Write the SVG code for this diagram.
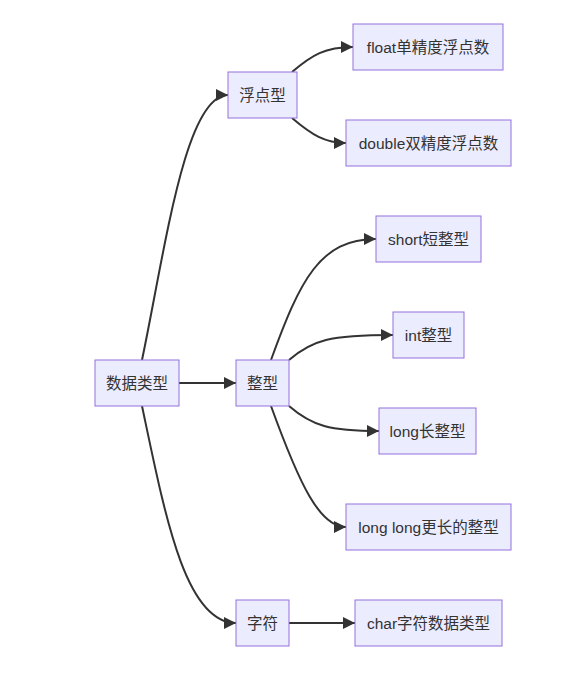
<svg xmlns="http://www.w3.org/2000/svg" width="584" height="678" viewBox="0 0 584 678">
<style>
.node rect{fill:#ECECFF;stroke:#9370DB;stroke-width:1px}
.node text{font-family:"Liberation Sans","Noto Sans CJK SC",sans-serif;font-size:15.5px;fill:#333;text-anchor:middle;dominant-baseline:central}
.edges path{fill:none;stroke:#333;stroke-width:2px}
</style>
<defs>
<marker id="arr" viewBox="0 0 10 10" refX="10" refY="5" markerWidth="6" markerHeight="6" markerUnits="strokeWidth" orient="auto">
<path d="M0,0 L10,5 L0,10 z" fill="#333"/>
</marker>
</defs>
<rect width="584" height="678" fill="#fff"/>
<g class="edges">
<path d="M142,360 C165,250 185,95 228,95" marker-end="url(#arr)"/>
<path d="M179,383 L236,383" marker-end="url(#arr)"/>
<path d="M142,406 C165,515 185,623 236,623" marker-end="url(#arr)"/>
<path d="M292,72 C312,55 325,47 353,47" marker-end="url(#arr)"/>
<path d="M292,118 C312,135 325,143 346,143" marker-end="url(#arr)"/>
<path d="M271,360 C300,280 320,239 376,239" marker-end="url(#arr)"/>
<path d="M289,360 C312,340 330,335 393,335" marker-end="url(#arr)"/>
<path d="M289,406 C312,426 330,431 379,431" marker-end="url(#arr)"/>
<path d="M271,406 C300,486 320,527 346,527" marker-end="url(#arr)"/>
<path d="M289,623 L355,623" marker-end="url(#arr)"/>
</g>
<g id="n-shuju" class="node"><rect x="95" y="360" width="84" height="46"/><text x="137" y="383">数据类型</text></g>
<g id="n-fudian" class="node"><rect x="228" y="72" width="69" height="46"/><text x="262.5" y="95">浮点型</text></g>
<g id="n-zheng" class="node"><rect x="236" y="360" width="53" height="46"/><text x="262.5" y="383">整型</text></g>
<g id="n-zifu" class="node"><rect x="236" y="600" width="53" height="46"/><text x="262.5" y="623">字符</text></g>
<g id="n-float" class="node"><rect x="353" y="24" width="150" height="46"/><text x="428" y="47">float单精度浮点数</text></g>
<g id="n-double" class="node"><rect x="346" y="120" width="165" height="46"/><text x="428.5" y="143">double双精度浮点数</text></g>
<g id="n-short" class="node"><rect x="376" y="216" width="105" height="46"/><text x="428.5" y="239">short短整型</text></g>
<g id="n-int" class="node"><rect x="393" y="312" width="71" height="46"/><text x="428.5" y="335">int整型</text></g>
<g id="n-long" class="node"><rect x="379" y="408" width="97" height="46"/><text x="427.5" y="431">long长整型</text></g>
<g id="n-longlong" class="node"><rect x="346" y="504" width="165" height="46"/><text x="428.5" y="527">long long更长的整型</text></g>
<g id="n-char" class="node"><rect x="355" y="600" width="147" height="46"/><text x="428.5" y="623">char字符数据类型</text></g>
</svg>
